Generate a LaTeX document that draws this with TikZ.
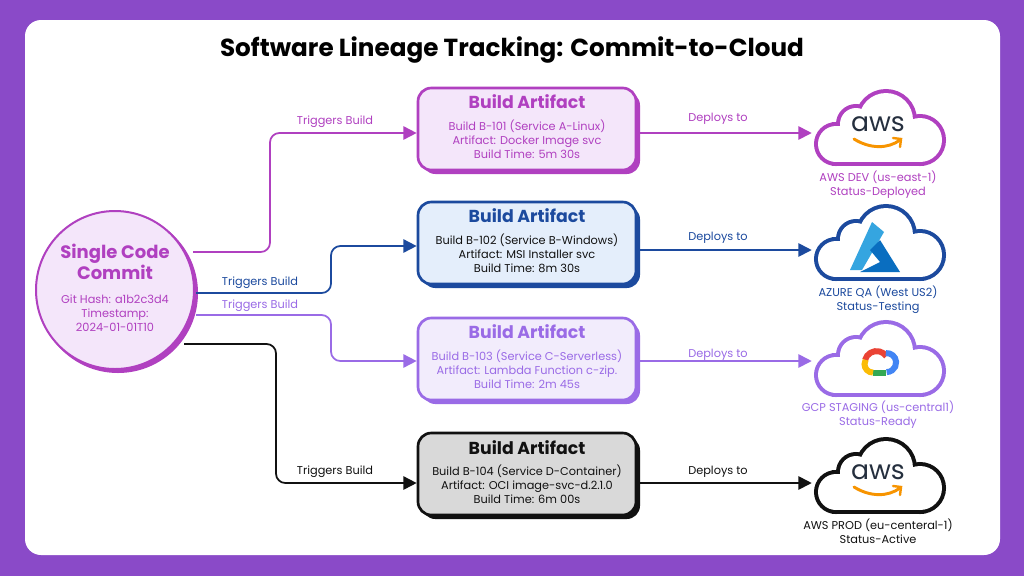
\documentclass[tikz,border=0pt]{standalone}
\usepackage{fontspec}
\setmainfont{Poppins}
\usetikzlibrary{arrows.meta}
\definecolor{bgp}{HTML}{8A4AC8}
\definecolor{c1}{HTML}{B040C0}
\definecolor{f1}{HTML}{F4E6FA}
\definecolor{c2}{HTML}{1C4A9E}
\definecolor{f2}{HTML}{E4EEFB}
\definecolor{c3}{HTML}{9A6BE6}
\definecolor{f3}{HTML}{F2ECFC}
\definecolor{c4}{HTML}{111111}
\definecolor{f4}{HTML}{D9D9D9}
\definecolor{awsd}{HTML}{252F3E}
\definecolor{awso}{HTML}{F79400}
\definecolor{azl}{HTML}{35A5E0}
\definecolor{azd}{HTML}{0A6EC0}
\definecolor{gr}{HTML}{EA4335}
\definecolor{gb}{HTML}{4285F4}
\definecolor{gg}{HTML}{34A853}
\definecolor{gy}{HTML}{FBBC05}
\begin{document}
\begin{tikzpicture}[x=0.75pt,y=-0.75pt,
  box/.style={draw=#1,line width=2pt,rounded corners=10pt,minimum width=163.5pt,minimum height=61.5pt,align=center,inner sep=0pt},
  shadow/.style={fill=#1,rounded corners=10pt,minimum width=163.5pt,minimum height=61.5pt,inner sep=0pt},
  conn/.style={draw=#1,line width=1.3pt,rounded corners=7pt,-{Triangle[length=10pt,width=10pt]}},
  lab/.style={font=\fontsize{8.5pt}{10pt}\selectfont,text=#1,inner sep=1pt},
  cname/.style={font=\fontsize{8.5pt}{10.5pt}\selectfont,text=#1,align=center,inner sep=0pt},
  ttl/.style={font=\fontsize{13pt}{15pt}\selectfont\bfseries,text=#1},
  bdy/.style={font=\fontsize{8.5pt}{10.5pt}\selectfont,text=#1},
  pics/cloud/.style={code={
    \begin{scope}[draw=#1,line width=6pt]
      \draw (-42,14) circle (18); \draw (-22,-6) circle (16); \draw (8,-10) circle (27);
      \draw (42,10) circle (22); \draw (-42,-4) rectangle (42,32);
      \fill[white] (-42,14) circle (18); \fill[white] (-22,-6) circle (16); \fill[white] (8,-10) circle (27);
      \fill[white] (42,10) circle (22); \fill[white] (-42,-4) rectangle (42,32);
    \end{scope}}},
  pics/aws/.style={code={
    \node[text=awsd,font=\fontsize{20pt}{20pt}\selectfont] at (0,-6) {aws};
    \draw[awso,line width=2.2pt,line cap=round] (-24,9) .. controls (-8,19) and (10,19) .. (22,10);
    \draw[awso,line width=1.8pt,line cap=round] (15,8) -- (23,9) -- (22,17);}}
]
\fill[bgp] (0,0) rectangle (1024,576);
\fill[white,rounded corners=12pt] (25,20) rectangle (1000,555);
\node[font=\fontsize{18.5pt}{22pt}\selectfont\bfseries] (title) at (512,50) {Software Lineage Tracking: Commit-to-Cloud};

% commit circle
\fill[c1] (118,293) circle (80);
\node[circle,draw=c1,line width=1.5pt,fill=f1,minimum size=158pt*0.75,inner sep=0pt] (commit) at (115,290) {};
\node[ttl=c1,align=center,font=\fontsize{13.5pt}{16pt}\selectfont\bfseries] (ct) at (115,262) {Single Code\\Commit};
\node[bdy=c1,align=center] (cd) at (115,313) {Git Hash: a1b2c3d4\\Timestamp:\\2024-01-01T10};

% boxes
\node[shadow=c1] at (531,133) {};
\node[box=c1,fill=f1] (b1) at (527,129) {};
\node[ttl=c1] at (527,102) {Build Artifact};
\node[bdy=c1,align=center] at (527,139) {Build B-101 (Service A-Linux)\\Artifact: Docker Image svc\\Build Time: 5m 30s};

\node[shadow=c2] at (531,247) {};
\node[box=c2,fill=f2] (b2) at (527,243) {};
\node[ttl=c2] at (527,216) {Build Artifact};
\node[bdy=c4,align=center] at (527,253) {Build B-102 (Service B-Windows)\\Artifact: MSI Installer svc\\Build Time: 8m 30s};

\node[shadow=c3] at (531,363) {};
\node[box=c3,fill=f3] (b3) at (527,359) {};
\node[ttl=c3] at (527,332) {Build Artifact};
\node[bdy=c3,align=center] at (527,369) {Build B-103 (Service C-Serverless)\\Artifact: Lambda Function c-zip.\\Build Time: 2m 45s};

\node[shadow=c4] at (531,478) {};
\node[box=c4,fill=f4] (b4) at (527,474) {};
\node[ttl=c4] at (527,448) {Build Artifact};
\node[bdy=c4,align=center] at (527,484) {Build B-104 (Service D-Container)\\Artifact: OCI image-svc-d.2.1.0\\Build Time: 6m 00s};

% clouds
\pic at (878,130) {cloud=c1}; \pic at (878,130) {aws};
\node[minimum width=90pt,minimum height=52pt] (k1) at (872,125) {};
\node[cname=c1] (n1) at (878,185) {AWS DEV (us-east-1)\\Status-Deployed};

\pic at (878,245) {cloud=c2};
\node[minimum width=90pt,minimum height=52pt] (k2) at (872,240) {};
\fill[azl] (872,222) -- (850,270) -- (862,270) -- (884,232) -- cycle;
\fill[azd] (880,240) -- (900,272) -- (860,272) -- (880,262) -- (870,250) -- cycle;
\node[cname=c2] (n2) at (878,300) {AZURE QA (West US2)\\Status-Testing};

\pic at (878,361) {cloud=c3};
\node[minimum width=90pt,minimum height=52pt] (k3) at (872,356) {};
\begin{scope}[shift={(876,364)},yscale=-1,line width=4.5pt]
  \draw[gr] (-11,4) arc (165:35:12);
  \draw[gb] (9.8,10.9) arc (95:-90:9.5);
  \draw[gg] (9.5,-8.6) -- (-3,-8.6);
  \draw[gy] (-3,-8.6) arc (270:150:8.5);
\end{scope}
\node[cname=c3] (n3) at (878,415) {GCP STAGING (us-central1)\\Status-Ready};

\pic at (878,478) {cloud=c4}; \pic at (878,478) {aws};
\node[minimum width=90pt,minimum height=52pt] (k4) at (872,473) {};
\node[cname=c4] (n4) at (878,531) {AWS PROD (eu-centeral-1)\\Status-Active};

% trigger connectors
\coordinate (s1) at (193,252); \coordinate (s2) at (196,293); \coordinate (s3) at (196,315); \coordinate (s4) at (184,344);
\draw[conn=c1] (s1) -- (270,252) -- (270,133) -- (b1.west|-0,133);
\draw[conn=c2] (s2) -- (331,293) -- (331,246) -- (b2.west|-0,246);
\draw[conn=c3] (s3) -- (331,315) -- (331,361) -- (b3.west|-0,361);
\draw[conn=c4] (s4) -- (276,344) -- (276,483) -- (b4.west|-0,483);
\node[lab=c1] at (335,122) {Triggers Build};
\node[lab=c2] at (260,283) {Triggers Build};
\node[lab=c3] at (260,306) {Triggers Build};
\node[lab=c4] at (335,472) {Triggers Build};

% deploy connectors
\draw[conn=c1] (b1.east|-0,133) -- (k1.west|-0,133);
\draw[conn=c2] (b2.east|-0,250) -- (k2.west|-0,250);
\draw[conn=c3] (b3.east|-0,361) -- (k3.west|-0,361);
\draw[conn=c4] (b4.east|-0,483) -- (k4.west|-0,483);
\node[lab=c1] at (718,119) {Deploys to};
\node[lab=c2] at (718,238) {Deploys to};
\node[lab=c3] at (718,355) {Deploys to};
\node[lab=c4] at (718,472) {Deploys to};
\end{tikzpicture}
\end{document}
